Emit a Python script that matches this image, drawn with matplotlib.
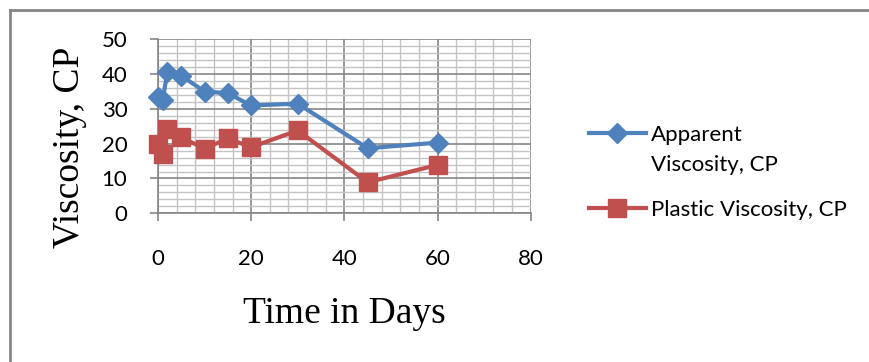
import matplotlib
matplotlib.use("Agg")
import numpy
from matplotlib import pyplot as plt
from matplotlib.lines import Line2D
from matplotlib.ticker import MultipleLocator

# data
days = [0, 1, 2, 5, 10, 15, 20, 30, 45, 60]
apparent = [33.5, 32.5, 40.5, 39.5, 35, 34.5, 31, 31.5, 18.7, 20.3]
plastic = [20, 17, 24.3, 21.8, 18.6, 21.5, 19, 23.8, 8.9, 13.9]
xticks = [0, 20, 40, 60, 80]
yticks = [0, 10, 20, 30, 40, 50]

blue = "#4F81BD"
red = "#C0504D"
grey = "#868686"

fig = plt.figure(figsize=(8.7, 3.62), dpi=100)
ax = fig.add_axes([0.1816, 0.4108, 0.4284, 0.4806])

ax.plot(days, apparent, color=blue, lw=3, marker="D", ms=10, label="Apparent\nViscosity, CP",
        zorder=3, clip_on=False)
ax.plot(days, plastic, color=red, lw=3, marker="s", ms=13, label="Plastic Viscosity, CP",
        zorder=3, clip_on=False)

ax.set_xlim(0, 80)
ax.set_ylim(0, 50)
ax.set_xticks(xticks)
ax.set_yticks(yticks)
ax.xaxis.set_minor_locator(MultipleLocator(4))
ax.yaxis.set_minor_locator(MultipleLocator(2))
ax.grid(which="major", color=grey, lw=1.2)
ax.grid(which="minor", color="#C4C4C4", lw=1.0)
ax.set_axisbelow(True)
for s in ["top", "right"]:
    ax.spines[s].set_visible(False)
for s in ["left", "bottom"]:
    ax.spines[s].set_color(grey)
    ax.spines[s].set_linewidth(1.2)
ax.tick_params(which="major", length=6, color=grey, width=1.2, labelsize=16)
ax.tick_params(which="minor", length=0)
ax.tick_params(axis="x", pad=20)
ax.tick_params(axis="y", pad=16)
for lab in ax.get_xticklabels() + ax.get_yticklabels():
    lab.set_family(["Lato", "DejaVu Sans"])

ax.set_xlabel("Time in Days", family="Liberation Serif", fontsize=27, va="center")
ax.set_ylabel("Viscosity, CP", family="Liberation Serif", fontsize=27, va="center")
ax.xaxis.set_label_coords(0.5, -0.58)
ax.yaxis.set_label_coords(-0.236, 0.378)

leg = fig.legend(loc="upper left", bbox_to_anchor=(0.654, 0.71), frameon=False,
                 prop={"family": "Lato", "size": 16}, handlelength=2.55,
                 handletextpad=0.25, labelspacing=1.15)
leg.get_texts()[0].set_linespacing(1.6)
# put the first handle level with the first line of its label, as in the original
h = leg.legend_handles[0]
h.set_ydata(numpy.asarray(h.get_ydata()) + 12)

# chart border
fig.add_artist(Line2D([0.0115, 1.0], [0.972, 0.972], color=grey, lw=2))
fig.add_artist(Line2D([0.0115, 0.0115], [0.0, 0.972], color=grey, lw=2))

fig.savefig("out.png", dpi=100)
